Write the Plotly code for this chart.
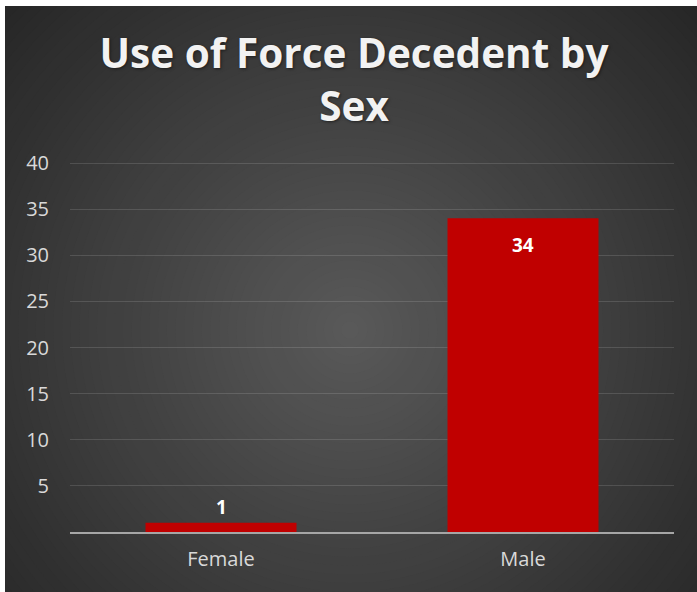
import plotly.graph_objects as go

categories = ["Female", "Male"]
values = [1, 34]
y_tick_vals = [5, 10, 15, 20, 25, 30, 35, 40]
title_text = "Use of Force Decedent by<br>Sex"

W, H = 697, 592
L, R, T, B = 70, 23, 156, 60
PW, PH = W - L - R, H - T - B
YMAX = 40 + 7 / 9.225


def px_to_paper_x(px):
    return (px - L) / PW


def px_to_paper_y(py):
    return (H - B - py) / PH


def hexc(v):
    v = int(round(v))
    return "#%02x%02x%02x" % (v, v, v)


shapes = []
# base dark rectangle
shapes.append(dict(type="rect", xref="paper", yref="paper", layer="below",
                   x0=px_to_paper_x(5), x1=px_to_paper_x(W), y0=px_to_paper_y(H), y1=px_to_paper_y(6),
                   fillcolor="#262626", line=dict(width=0)))
# radial gradient via concentric circles
cx, cy = 350, 330
rmax = 480
N = 55
dark, light = 0x26, 0x5a
for i in range(N):
    r = rmax * (1 - i / N)
    t = i / N
    c = dark + (light - dark) * t
    shapes.append(dict(type="circle", xref="paper", yref="paper", layer="below",
                       x0=px_to_paper_x(cx - r), x1=px_to_paper_x(cx + r),
                       y0=px_to_paper_y(cy + r), y1=px_to_paper_y(cy - r),
                       fillcolor=hexc(c), line=dict(width=0)))
# white strips (outer border)
shapes.append(dict(type="rect", xref="paper", yref="paper", layer="below",
                   x0=px_to_paper_x(-5), x1=px_to_paper_x(5), y0=px_to_paper_y(H + 5), y1=px_to_paper_y(-5),
                   fillcolor="white", line=dict(width=0)))
shapes.append(dict(type="rect", xref="paper", yref="paper", layer="below",
                   x0=px_to_paper_x(-5), x1=px_to_paper_x(W + 5), y0=px_to_paper_y(6), y1=px_to_paper_y(-5),
                   fillcolor="white", line=dict(width=0)))

fig = go.Figure()
fig.add_trace(go.Bar(
    x=categories, y=values,
    marker=dict(color="#c00000", line=dict(width=0)),
    hoverinfo="skip",
))

annotations = []
for cat, v in zip(categories, values):
    inside = v > 5
    annotations.append(dict(
        x=cat, y=v, xref="x", yref="y", text=str(v), showarrow=False,
        yanchor="middle", yshift=(-27 if inside else 16),
        font=dict(family="Open Sans", size=19, color="white", weight="bold"),
    ))

fig.update_layout(
    width=W, height=H,
    margin=dict(l=L, r=R, t=T, b=B),
    paper_bgcolor="white",
    plot_bgcolor="rgba(0,0,0,0)",
    shapes=shapes,
    annotations=annotations,
    bargap=0.5,
    showlegend=False,
    title=dict(text=title_text, x=354 / W, xanchor="center", y=1 - 68 / H, yanchor="top",
               font=dict(family="Open Sans", size=40.5, color="#f2f2f2", weight="bold",
                         shadow="1px 1px 3px rgba(0,0,0,0.5)")),
    font=dict(family="Open Sans", color="#d9d9d9", size=20),
)
fig.update_xaxes(showline=True, linecolor="#a6a6a6", linewidth=2, showgrid=False,
                 ticks="outside", ticklen=8, tickcolor="rgba(0,0,0,0)",
                 tickfont=dict(family="Open Sans", size=20, color="#d9d9d9"))
fig.update_yaxes(range=[0, YMAX], tickvals=y_tick_vals, showgrid=True,
                 gridcolor="rgba(255,255,255,0.13)", gridwidth=1, zeroline=False, showline=False,
                 ticklabelstandoff=20,
                 tickfont=dict(family="Open Sans", size=20, color="#d9d9d9"))

fig.write_html("out.html", config={"displayModeBar": False},
               post_script="document.body.style.margin='0';")
